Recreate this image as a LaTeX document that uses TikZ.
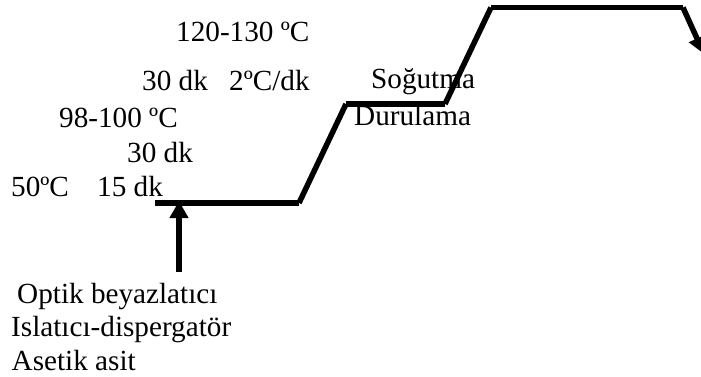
\documentclass[tikz,border=0pt]{standalone}
\usepackage{fontspec}
\setmainfont{Liberation Serif}
\usetikzlibrary{arrows.meta}
\begin{document}
\begin{tikzpicture}[x=1pt,y=-1pt,
  lbl/.style={anchor=base west,inner sep=0pt,font=\fontsize{29.2}{33}\selectfont},
  stage/.style={line width=5.5pt,line cap=butt},
  feed/.style={line width=6pt,-{Triangle[length=17pt,width=18pt]}}]
\useasboundingbox (0,0) rectangle (701,377);
\clip (0,0) rectangle (701,377);
% temperature profile corners
\coordinate (a1) at (155,203);
\coordinate (a2) at (299,203);
\coordinate (b1) at (346,104);
\coordinate (b2) at (445,104);
\coordinate (c1) at (491,7.5);
\coordinate (c2) at (683,7.5);
\coordinate (d)  at (704,54);
% dosing arrow
\coordinate (f0) at (179,272);
\coordinate (f1) at (179,201);

\draw[stage] (a1) -- (a2);
\draw[stage] (a2) -- (b1);
\draw[stage] (b1) -- (b2);
\draw[stage] (b2) -- (c1);
\draw[stage] (c1) -- (c2);
\draw[stage,-{Triangle[length=17pt,width=17pt]}] (c2) -- (d);
\draw[feed] (f0) -- (f1);

% labels
\node[lbl] (t1) at (176,42) {120-130 ºC};
\node[lbl] (t2) at (142,91) {30 dk};
\node[lbl] (t3) at (229,91) {2ºC/dk};
\node[lbl] (t4) at (59,128) {98-100 ºC};
\node[lbl] (t5) at (127,162) {30 dk};
\node[lbl] (t6) at (11,196) {50ºC};
\node[lbl] (t7) at (97,196) {15 dk};
\node[lbl] (s1) at (371,89) {Soğutma};
\node[lbl] (s2) at (354,126) {Durulama};
\node[lbl] (k1) at (17,303) {Optik beyazlatıcı};
\node[lbl] (k2) at (11,336) {Islatıcı-dispergatör};
\node[lbl] (k3) at (11.5,370) {Asetik asit};
\end{tikzpicture}
\end{document}
